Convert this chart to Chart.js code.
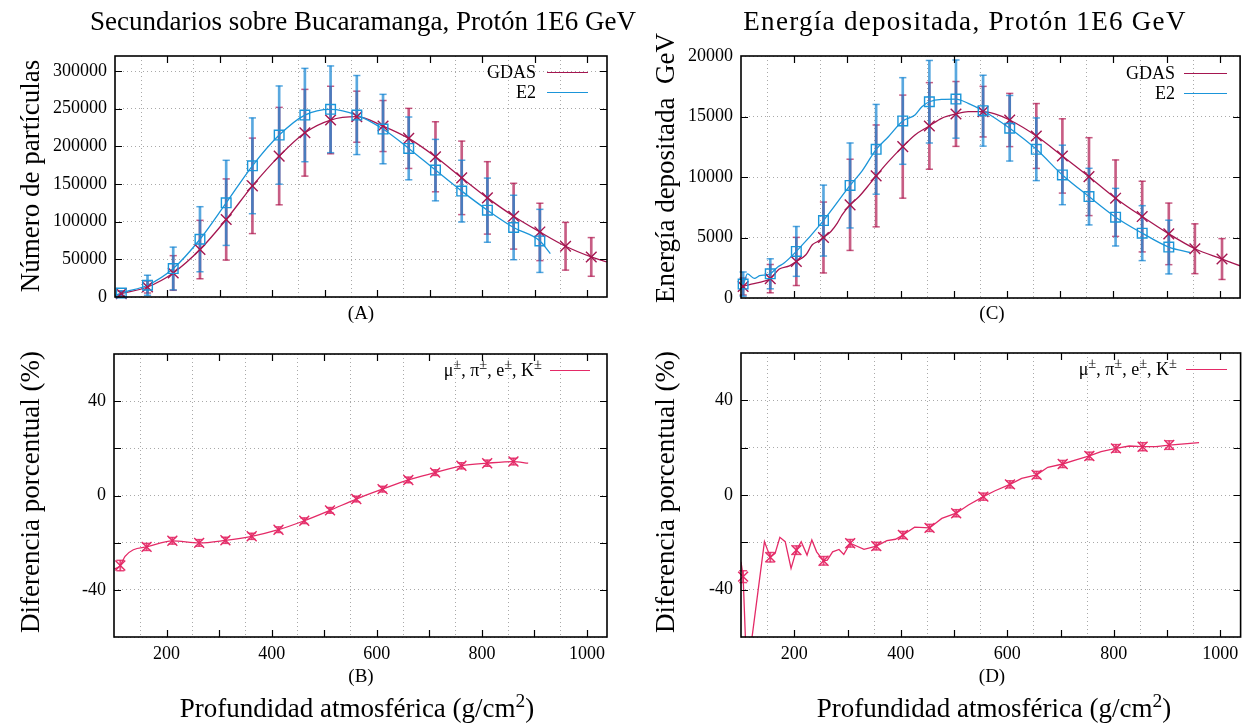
<!DOCTYPE html>
<html><head><meta charset="utf-8">
<script src="https://cdn.jsdelivr.net/npm/chart.js@4.4.1/dist/chart.umd.min.js"></script>
<style>
body{margin:0;background:#fff;width:1249px;height:725px;position:relative;overflow:hidden;font-family:"Liberation Serif","Times New Roman",serif;color:#000}
canvas{position:absolute}
.t{position:absolute;white-space:pre;transform:translate(-50%,-50%);line-height:1}
.v{transform:translate(-50%,-50%) rotate(-90deg)}
.big{font-size:27px}
.lab{font-size:19px}
.leg{position:absolute;font-size:18px;white-space:nowrap;transform:translateY(-50%);line-height:1}
.leg span.l{display:inline-block;height:0;border-top:1.5px solid;vertical-align:0.3em}
sup{font-size:0.72em;vertical-align:0.5em;line-height:0}
.leg sup{font-size:0.8em;vertical-align:0.5em}
</style></head>
<body>
<canvas id="cA" width="624" height="330" style="left:0;top:0"></canvas>
<canvas id="cC" width="625" height="330" style="left:624px;top:0"></canvas>
<canvas id="cB" width="624" height="395" style="left:0;top:330px"></canvas>
<canvas id="cD" width="625" height="395" style="left:624px;top:330px"></canvas>

<div class="t big" style="left:363px;top:21px">Secundarios sobre Bucaramanga, Protón 1E6 GeV</div>
<div class="t big" style="left:965px;top:21px;letter-spacing:1.3px">Energía depositada, Protón 1E6 GeV</div>
<div class="t big v" style="left:30px;top:176px">Número de partículas</div>
<div class="t big v" style="left:665px;top:168px">Energía depositada  GeV</div>
<div class="t big v" style="left:30px;top:492px">Diferencia porcentual (%)</div>
<div class="t big v" style="left:665px;top:492px">Diferencia porcentual (%)</div>
<div class="t lab" style="left:361px;top:312px">(A)</div>
<div class="t lab" style="left:992px;top:312px">(C)</div>
<div class="t lab" style="left:361px;top:675px">(B)</div>
<div class="t lab" style="left:992px;top:675px">(D)</div>
<div class="t big" style="left:357px;top:708px">Profundidad atmosférica (g/cm<sup>2</sup>)</div>
<div class="t big" style="left:994px;top:708px">Profundidad atmosférica (g/cm<sup>2</sup>)</div>

<div class="leg" style="right:661px;top:72px"><span>GDAS</span><span class="l" style="width:41px;margin-left:11px;border-color:#a51650"></span></div>
<div class="leg" style="right:661px;top:92px"><span>E2</span><span class="l" style="width:41px;margin-left:11px;border-color:#1b95d9"></span></div>
<div class="leg" style="right:22px;top:73px"><span>GDAS</span><span class="l" style="width:43px;margin-left:9px;border-color:#a51650"></span></div>
<div class="leg" style="right:22px;top:93px"><span>E2</span><span class="l" style="width:43px;margin-left:9px;border-color:#1b95d9"></span></div>
<div class="leg" style="right:659px;top:370px"><span>μ<sup>±</sup>, π<sup>±</sup>, e<sup>±</sup>, K<sup>±</sup></span><span class="l" style="width:40px;margin-left:8px;border-color:#e42a67"></span></div>
<div class="leg" style="right:22px;top:369px"><span>μ<sup>±</sup>, π<sup>±</sup>, e<sup>±</sup>, K<sup>±</sup></span><span class="l" style="width:41px;margin-left:9px;border-color:#e42a67"></span></div>

<script>
// ---------- data ----------
const depthAB = [112,162,211,262,312,362,413,462,511,561,611,660,711,761,810,860,910,959,1008];
const gdasA = [4500,13300,31900,63000,102900,147600,187100,218100,235000,239400,227000,210600,186200,158200,131600,107300,86400,67400,53200];
const gdasAErr = [3000,8000,23000,38800,53900,63400,64700,57600,44800,33900,33900,39900,46500,48800,48100,43700,38100,31700,25700];
const e2A = [5300,15600,37800,76700,125000,174200,215000,241600,249200,241600,223000,197300,168500,140600,115300,92300,74500];
const e2AErr = [3000,13300,28400,43200,56500,63600,65200,62000,57600,52500,46100,41700,40800,41000,42600,42800,41900];
const gdasAExtraX = [100,1038];
const gdasAExtraY = [2000,46500];
const e2AExtraX = [100,930];
const e2AExtraY = [1500,57700];

const diffB = [-29.7,-21.8,-19.2,-20.1,-19.0,-17.3,-14.5,-10.7,-6.3,-1.5,2.7,6.6,9.7,12.6,13.7,14.4];
const diffBErr = [2.2,1.5,1.4,1.4,1.3,1.3,1.2,1.2,1.2,1.2,1.2,1.2,1.2,1.3,1.3,1.4];
const diffBExtraX = [101,121,137,888];
const diffBExtraY = [-31.1,-25.8,-23.0,13.7];

const depthCD = [104,155,204,255,305,354,404,454,504,555,605,655,704,754,804,854,904,953,1004];
const gdasC = [950,1600,3020,5000,7700,10090,12510,14220,15210,15400,14710,13390,11740,10030,8250,6730,5300,4070,3220];
const gdasCErr = [700,1170,1990,2930,3770,4210,4260,3580,2680,2090,2200,2680,3070,3220,3160,2920,2545,2060,1690];
const e2C = [1150,2000,3850,6400,9300,12290,14630,16220,16440,15480,14030,12290,10170,8380,6680,5360,4210];
const e2CErr = [1000,1240,2060,2930,3510,3710,3580,3410,3230,2930,2710,2590,2460,2340,2380,2270,2220];
const gdasCLineX = [100,104,116,135,155,172,191,204,222,234,244,255,269,281,290,305,322,343,354,377,404,427,454,477,504,527,555,577,605,655,704,754,804,854,904,953,1004,1038];
const gdasCLineY = [800,950,1100,1290,1600,2390,2660,3020,3570,4400,4670,5000,5500,6190,6870,7700,8390,9490,10090,11270,12510,13480,14220,14850,15210,15400,15400,15210,14710,13390,11740,10030,8250,6730,5300,4070,3220,2660];
const e2CLineX = [100,104,112,125,135,147,155,169,181,204,255,305,328,354,377,404,427,440,454,477,504,527,555,605,655,704,754,804,854,904,944];
const e2CLineY = [1500,1150,2000,1620,1840,1920,2000,2560,2890,3850,6400,9300,10530,12290,13330,14630,15120,15810,16220,16420,16440,16090,15480,14030,12290,10170,8380,6680,5360,4210,3760];

const diffD = [-34.5,-26.3,-23.3,-27.8,-20.4,-21.6,-16.9,-13.9,-7.7,-0.7,4.5,8.5,13.1,16.5,19.7,20.4,21.1];
const diffDErr = [2.5,2.0,1.8,1.8,1.6,1.6,1.5,1.5,1.5,1.5,1.5,1.5,1.5,1.6,1.6,1.7,1.8];
const diffDLineX = [100,104,111,144,155,164,173,183,194,204,213,224,233,242,255,262,272,284,293,305,331,354,374,390,404,426,454,477,504,527,555,577,605,627,655,676,704,729,754,776,804,829,854,879,904,960];
const diffDLineY = [-28.2,-34.5,-77,-19.7,-26.3,-24.7,-17.9,-19.7,-31.0,-23.3,-19.7,-25.4,-19.0,-24.0,-27.8,-27.5,-24.0,-23.0,-25.1,-20.4,-23.0,-21.6,-19.3,-18.7,-16.9,-13.6,-13.9,-9.9,-7.7,-4.2,-0.7,1.8,4.5,7.0,8.5,11.7,13.1,14.8,16.5,18.3,19.7,20.7,20.4,20.4,21.1,22.1];

// ---------- tick labels ----------
const xTickValues = [100,200,300,400,500,600,700,800,900,1000];
const xTicksLabelled = [200,400,600,800,1000];
const yTicksA = [0,50000,100000,150000,200000,250000,300000];
const yTicksC = [0,5000,10000,15000,20000];
const yTicksDiff = [-60,-40,-20,0,20,40,60];
const yTicksDiffLabelled = [-40,0,40];

// ---------- styling ----------
const FONT = '"Liberation Serif","Times New Roman",serif';
const GDAS_COL = '#a51650', GDAS_ERR = 'rgba(178,30,85,0.72)';
const E2_COL = '#1b95d9', E2_ERR = 'rgba(25,135,210,0.72)';
const DIFF_COL = '#e42a67', DIFF_ERR = 'rgba(228,42,103,0.85)';

const pts = (xs, ys) => ys.map((y, i) => ({x: xs[i], y}));
const merge = (a, b) => a.concat(b).sort((p, q) => p.x - q.x);

function lineDS(data, color, smooth) {
  return {type:'line', data, borderColor:color, borderWidth:1.3, pointRadius:0, fill:false,
    tension: smooth ? 0.4 : 0, cubicInterpolationMode: smooth ? 'monotone' : 'default', order:1};
}
function markerDS(xs, ys, color, style, r) {
  return {type:'line', data:pts(xs, ys), showLine:false, pointStyle:style, pointRadius:r,
    pointBorderColor:color, pointBackgroundColor:'rgba(0,0,0,0)', pointBorderWidth:1.4,
    borderColor:color, clip:false, order:0};
}
function barDS(xs, ys, errs, color, order, thick) {
  return {type:'bar', data: ys.map((y, i) => ({x: xs[i], y: [y - errs[i], y + errs[i]]})),
    backgroundColor:color, borderWidth:0, barThickness:thick, grouped:false, clip:false, order};
}
function capDS(xs, ys, errs, color, order, r) {
  const d = [];
  ys.forEach((y, i) => { d.push({x: xs[i], y: y - errs[i]}); d.push({x: xs[i], y: y + errs[i]}); });
  return {type:'line', data:d, showLine:false, pointStyle:'line', pointRadius:r,
    pointBorderColor:color, pointBorderWidth:1.5, borderColor:color, clip:false, order};
}

const framePlugin = {
  id:'frame',
  afterDatasetsDraw(chart) {
    const {ctx, chartArea:a, scales:{x, y}} = chart;
    ctx.save();
    ctx.strokeStyle = '#000';
    ctx.lineWidth = 1.2;
    const L = 7;
    ctx.beginPath();
    x.ticks.forEach(t => {
      const p = Math.round(x.getPixelForValue(t.value)) + 0.5;
      if (p - a.left < 3 || a.right - p < 3) return;
      ctx.moveTo(p, a.bottom); ctx.lineTo(p, a.bottom - L);
      ctx.moveTo(p, a.top); ctx.lineTo(p, a.top + L);
    });
    y.ticks.forEach(t => {
      const p = Math.round(y.getPixelForValue(t.value)) + 0.5;
      if (p - a.top < 3 || a.bottom - p < 3) return;
      ctx.moveTo(a.left, p); ctx.lineTo(a.left + L, p);
      ctx.moveTo(a.right, p); ctx.lineTo(a.right - L, p);
    });
    ctx.stroke();
    ctx.lineWidth = 1.6;
    ctx.strokeRect(a.left, a.top, a.right - a.left, a.bottom - a.top);
    ctx.restore();
  }
};

function makeChart(id, c) {
  return new Chart(document.getElementById(id), {
    type:'line',
    data:{datasets:c.datasets},
    plugins:[framePlugin],
    options:{
      responsive:false, animation:false, events:[],
      layout:{padding:{top:c.pt, right:c.pr, left:0, bottom:0}},
      plugins:{legend:{display:false}, tooltip:{enabled:false}, title:{display:false}},
      scales:{
        x:{type:'linear', min:100, max:1038, offset:false,
          afterBuildTicks:s => { s.ticks = xTickValues.map(v => ({value:v})); },
          ticks:{autoSkip:false, maxRotation:0, minRotation:0,
            display:c.xLabels, padding:6, color:'#000', font:{family:FONT, size:18},
            callback:v => xTicksLabelled.includes(v) ? String(v) : ''},
          grid:{color:'#a9a9a9', lineWidth:1, drawTicks:false},
          border:{display:false, dash:[1,3]},
          afterFit:s => { s.height = c.xh; }},
        y:{type:'linear', min:c.ymin, max:c.ymax,
          afterBuildTicks:s => { s.ticks = c.yticks.map(v => ({value:v})); },
          ticks:{autoSkip:false, padding:8, color:'#000', font:{family:FONT, size:18},
            callback:c.ycb},
          grid:{color:'#a9a9a9', lineWidth:1, drawTicks:false},
          border:{display:false, dash:[1,3]},
          afterFit:s => { s.width = c.yw; }}
      }
    }
  });
}

const depthE2A = depthAB.slice(0, e2A.length);
makeChart('cA', {
  pt:56, pr:17, yw:115, xh:33, xLabels:false, ymin:0, ymax:320000, yticks:yTicksA,
  ycb:v => String(v),
  datasets:[
    markerDS(depthE2A, e2A, E2_COL, 'rect', 6.8),
    markerDS(depthAB, gdasA, GDAS_COL, 'crossRot', 7.5),
    lineDS(merge(pts(depthE2A, e2A), pts(e2AExtraX, e2AExtraY)), E2_COL, true),
    lineDS(merge(pts(depthAB, gdasA), pts(gdasAExtraX, gdasAExtraY)), GDAS_COL, true),
    capDS(depthE2A, e2A, e2AErr, E2_ERR, 2, 3.6),
    barDS(depthE2A, e2A, e2AErr, E2_ERR, 2, 2),
    capDS(depthAB, gdasA, gdasAErr, GDAS_ERR, 3, 3.6),
    barDS(depthAB, gdasA, gdasAErr, GDAS_ERR, 3, 2)
  ]
});

const depthE2C = depthCD.slice(0, e2C.length);
makeChart('cC', {
  pt:56, pr:6, yw:117, xh:32, xLabels:false, ymin:0, ymax:20000, yticks:yTicksC,
  ycb:v => String(v),
  datasets:[
    markerDS(depthE2C, e2C, E2_COL, 'rect', 6.8),
    markerDS(depthCD, gdasC, GDAS_COL, 'crossRot', 7.5),
    lineDS(pts(e2CLineX, e2CLineY), E2_COL, true),
    lineDS(pts(gdasCLineX, gdasCLineY), GDAS_COL, true),
    capDS(depthE2C, e2C, e2CErr, E2_ERR, 2, 3.6),
    barDS(depthE2C, e2C, e2CErr, E2_ERR, 2, 2),
    capDS(depthCD, gdasC, gdasCErr, GDAS_ERR, 3, 3.6),
    barDS(depthCD, gdasC, gdasCErr, GDAS_ERR, 3, 2)
  ]
});

const depthB = depthAB.slice(0, diffB.length);
const diffYcb = v => yTicksDiffLabelled.includes(v) ? String(v) : '';
makeChart('cB', {
  pt:24, pr:17, yw:114, xh:88, xLabels:true, ymin:-60, ymax:60, yticks:yTicksDiff,
  ycb:diffYcb,
  datasets:[
    markerDS(depthB, diffB, DIFF_COL, 'crossRot', 7),
    lineDS(merge(pts(depthB, diffB), pts(diffBExtraX, diffBExtraY)), DIFF_COL, true),
    capDS(depthB, diffB, diffBErr, DIFF_ERR, 2, 4),
    barDS(depthB, diffB, diffBErr, DIFF_ERR, 2, 1.2)
  ]
});

const depthD = depthCD.slice(0, diffD.length);
makeChart('cD', {
  pt:23, pr:6, yw:117, xh:88, xLabels:true, ymin:-60, ymax:60, yticks:yTicksDiff,
  ycb:diffYcb,
  datasets:[
    markerDS(depthD, diffD, DIFF_COL, 'crossRot', 7),
    lineDS(pts(diffDLineX, diffDLineY), DIFF_COL, false),
    capDS(depthD, diffD, diffDErr, DIFF_ERR, 2, 4),
    barDS(depthD, diffD, diffDErr, DIFF_ERR, 2, 1.2)
  ]
});
</script>
</body></html>
